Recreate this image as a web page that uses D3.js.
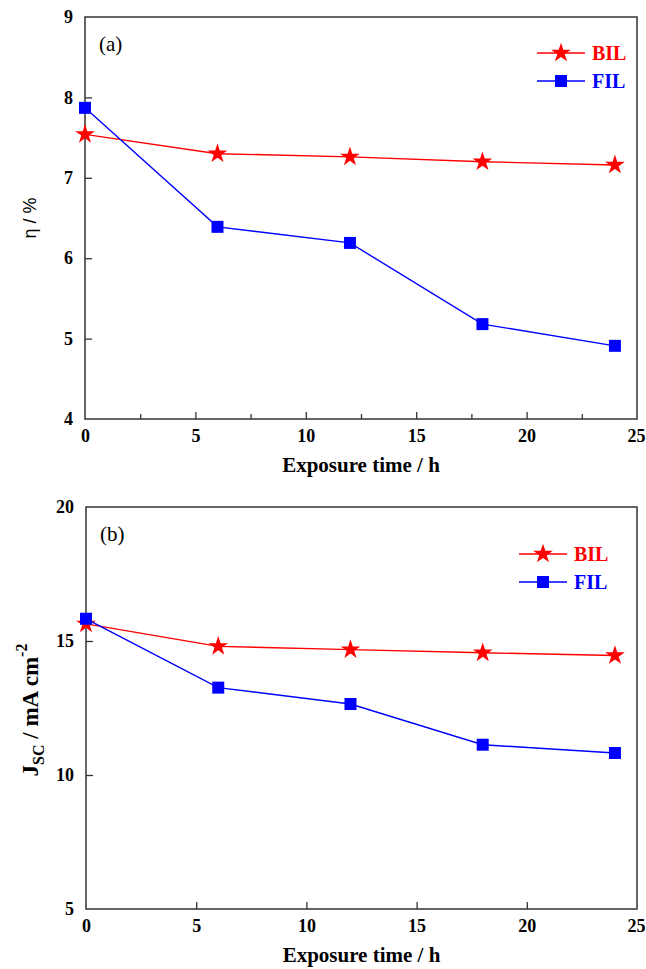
<!DOCTYPE html>
<html>
<head>
<meta charset="utf-8">
<script src="https://cdn.jsdelivr.net/npm/d3@7"></script>
<style>
  body { margin: 0; background: #fff; }
  svg { display: block; }
  text { font-family: "Liberation Serif", "Times New Roman", serif; }
</style>
</head>
<body>
<div class="canvas"></div>
<script>
// exposure time (h)
const hours = [0, 6, 12, 18, 24]

// panel (a) efficiency, %
const etaBIL = [7.54, 7.30, 7.26, 7.20, 7.16]
const etaFIL = [7.87, 6.39, 6.19, 5.18, 4.91]

// panel (b) Jsc, mA cm-2
const jscBIL = [15.64, 14.80, 14.68, 14.56, 14.46]
const jscFIL = [15.83, 13.26, 12.65, 11.13, 10.82]

const xTicks = [0, 5, 10, 15, 20, 25]
const xMinor = [2.5, 7.5, 12.5, 17.5, 22.5]
const etaTicks = [4, 5, 6, 7, 8, 9]
const jscTicks = [5, 10, 15, 20]

const seriesNames = ['BIL', 'FIL']
const colors = { BIL: '#ff0000', FIL: '#0000ff' }

const svg = d3.select('.canvas').append('svg')
  .attr('width', 646)
  .attr('height', 969)

const star = d3.symbol().type(d3.symbolStar).size(120)
const square = d3.symbol().type(d3.symbolSquare).size(144)

const drawPanel = (cfg) => {
  const x = d3.scaleLinear().domain([0, 25]).range([cfg.left, cfg.right])
  const y = d3.scaleLinear().domain(cfg.yDomain).range([cfg.bottom, cfg.top])

  const g = svg.append('g')

  // frame
  g.append('rect')
    .attr('x', cfg.left)
    .attr('y', cfg.top)
    .attr('width', cfg.right - cfg.left)
    .attr('height', cfg.bottom - cfg.top)
    .attr('fill', 'none')
    .attr('stroke', '#333')
    .attr('stroke-width', 1.5)

  // x axis, ticks inside
  const xAxis = g.append('g')
    .attr('transform', `translate(0, ${cfg.bottom})`)
    .call(d3.axisBottom(x).tickValues(xTicks).tickSize(-7).tickPadding(10).tickFormat(d3.format('d')))
  if (cfg.minor) {
    g.append('g')
      .attr('transform', `translate(0, ${cfg.bottom})`)
      .call(d3.axisBottom(x).tickValues(xMinor).tickSize(-5).tickFormat(''))
      .call(a => a.select('.domain').remove())
      .selectAll('line').attr('stroke', '#333').attr('stroke-width', 1.3)
  }

  // y axis
  const yAxis = g.append('g')
    .attr('transform', `translate(${cfg.left}, 0)`)
    .call(d3.axisLeft(y).tickValues(cfg.yTicks).tickSize(-7).tickPadding(12).tickFormat(d3.format('d')))

  ;[xAxis, yAxis].forEach(a => {
    a.select('.domain').remove()
    a.selectAll('line').attr('stroke', '#333').attr('stroke-width', 1.3)
    a.selectAll('text')
      .attr('fill', '#000')
      .style('font-family', '"Liberation Serif", serif')
      .style('font-weight', 'bold')
      .style('font-size', '18px')
  })
  // keep the last label inside the page
  xAxis.selectAll('.tick text').filter(d => d === 25).attr('dx', -1)
  // drop first/last tick marks drawn over the frame
  xAxis.selectAll('.tick line').filter(d => d === 0 || d === 25).remove()
  yAxis.selectAll('.tick line').filter((d, i, n) => i === 0 || i === n.length - 1).remove()

  // lines + markers
  cfg.series.forEach(s => {
    const pts = hours.map((h, i) => [h, s.values[i]])
    g.append('path')
      .datum(pts)
      .attr('fill', 'none')
      .attr('stroke', colors[s.name])
      .attr('stroke-width', 1.4)
      .attr('d', d3.line().x(d => x(d[0])).y(d => y(d[1])))
    g.selectAll(null)
      .data(pts)
      .enter().append('path')
      .attr('transform', d => `translate(${x(d[0])}, ${y(d[1])})`)
      .attr('d', s.name === 'BIL' ? star : square)
      .attr('fill', colors[s.name])
  })

  // panel tag
  g.append('text')
    .attr('x', cfg.left + 14)
    .attr('y', cfg.top + 34)
    .style('font-size', '21px')
    .text(cfg.tag)

  // legend
  seriesNames.forEach((name, i) => {
    const ly = cfg.legendY + i * 28
    g.append('line')
      .attr('x1', cfg.legendX).attr('x2', cfg.legendX + 48)
      .attr('y1', ly).attr('y2', ly)
      .attr('stroke', colors[name]).attr('stroke-width', 1.4)
    g.append('path')
      .attr('transform', `translate(${cfg.legendX + 24}, ${ly})`)
      .attr('d', name === 'BIL' ? star : square)
      .attr('fill', colors[name])
    g.append('text')
      .attr('x', cfg.legendX + 55)
      .attr('y', ly + 7)
      .attr('fill', colors[name])
      .style('font-weight', 'bold')
      .style('font-size', '20px')
      .text(name)
  })

  // x title
  g.append('text')
    .attr('x', (cfg.left + cfg.right) / 2)
    .attr('y', cfg.bottom + 53)
    .attr('text-anchor', 'middle')
    .style('font-weight', 'bold')
    .style('font-size', '21px')
    .text('Exposure time / h')

  return g
}

const a = drawPanel({
  left: 85, right: 637, top: 17, bottom: 419,
  yDomain: [4, 9], yTicks: etaTicks, minor: true, tag: '(a)',
  legendX: 537, legendY: 53,
  series: [{ name: 'BIL', values: etaBIL }, { name: 'FIL', values: etaFIL }]
})
a.append('text')
  .attr('transform', 'translate(36, 218) rotate(-90)')
  .attr('text-anchor', 'middle')
  .style('font-family', '"Liberation Sans", Arial, sans-serif')
  .style('font-size', '18px')
  .text('η / %')

const b = drawPanel({
  left: 86, right: 637, top: 507, bottom: 909,
  yDomain: [5, 20], yTicks: jscTicks, minor: false, tag: '(b)',
  legendX: 519, legendY: 554,
  series: [{ name: 'BIL', values: jscBIL }, { name: 'FIL', values: jscFIL }]
})
const yl = b.append('text')
  .attr('transform', 'translate(38, 710) rotate(-90)')
  .attr('text-anchor', 'middle')
  .style('font-weight', 'bold')
  .style('font-size', '23px')
yl.append('tspan').text('J')
yl.append('tspan').attr('dy', 6).style('font-size', '16px').text('SC')
yl.append('tspan').attr('dy', -6).text(' / mA cm')
yl.append('tspan').attr('dy', -11).style('font-size', '16px').text('-2')
</script>
</body>
</html>
